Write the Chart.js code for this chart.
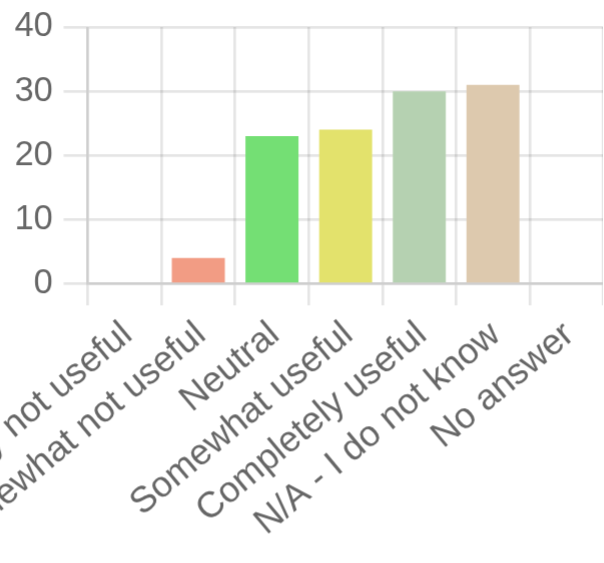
<!DOCTYPE html>
<html>
<head>
<meta charset="utf-8">
<script src="https://cdn.jsdelivr.net/npm/chart.js@4/dist/chart.umd.min.js"></script>
<style>
  html, body { margin: 0; padding: 0; background: #fff; overflow: hidden; width: 604px; height: 563px; }
  #wrap { position: absolute; left: 0; top: 0; transform-origin: 0 0; }
</style>
</head>
<body>
<div id="wrap"></div>
<script>
// ---- data ----
const categories = [
  "Completely not useful",
  "Somewhat not useful",
  "Neutral",
  "Somewhat useful",
  "Completely useful",
  "N/A - I do not know",
  "No answer"
];
const counts = [0, 4, 23, 24, 30, 31, 0];
const barColors = ["#e8e8e8", "#f29c84", "#74df74", "#e3e26c", "#b5d1b1", "#ddc9ae", "#d8d8d8"];
const yTicks = [0, 10, 20, 30, 40];

// ---- view (the reference is a zoomed crop of a small chart) ----
const SCALE = 2.7;
const TARGET = { left: 88, right: 603, zeroY: 283, topY: 27 };

Chart.defaults.font.family = "'Liberation Sans', Arial, Helvetica, sans-serif";
Chart.defaults.font.size = 12;
Chart.defaults.color = "#666";

function build(W, H) {
  const wrap = document.getElementById('wrap');
  wrap.innerHTML = '';
  const canvas = document.createElement('canvas');
  canvas.width = W; canvas.height = H;
  canvas.style.width = W + 'px'; canvas.style.height = H + 'px';
  wrap.appendChild(canvas);
  return new Chart(canvas, {
    type: 'bar',
    data: {
      labels: categories,
      datasets: [{
        data: counts,
        backgroundColor: barColors,
        borderWidth: 0
      }]
    },
    options: {
      responsive: false,
      maintainAspectRatio: false,
      animation: false,
      devicePixelRatio: SCALE,
      plugins: { legend: { display: false }, tooltip: { enabled: false } },
      layout: { padding: { top: 20, right: 0, left: 0, bottom: 0 } },
      scales: {
        x: {
          afterFit: (axis) => { axis.height = 130; },
          grid: { color: 'rgba(0,0,0,0.1)', tickLength: 8 },
          ticks: { minRotation: 40, maxRotation: 40, padding: 3, autoSkip: false,
                   labelOffset: 1, font: { size: 13.4 } }
        },
        y: {
          min: yTicks[0],
          max: yTicks[yTicks.length - 1],
          grid: { color: 'rgba(0,0,0,0.1)', tickLength: 9 },
          afterBuildTicks: (axis) => { axis.ticks = yTicks.map(v => ({ value: v })); },
          ticks: { padding: 4, font: { size: 12.7 } }
        }
      }
    }
  });
}

const wantW = (TARGET.right - TARGET.left) / SCALE;
const wantH = (TARGET.zeroY - TARGET.topY) / SCALE;
let W = 320, H = 250;
let chart = build(W, H);
for (let i = 0; i < 5; i++) {
  const area = chart.chartArea;
  const ys = chart.scales.y;
  const gotW = area.right - area.left;
  const gotH = ys.getPixelForValue(yTicks[0]) - ys.getPixelForValue(yTicks[yTicks.length - 1]);
  if (Math.abs(gotW - wantW) < 0.6 && Math.abs(gotH - wantH) < 0.6) break;
  W = Math.round(W + wantW - gotW);
  H = Math.round(H + wantH - gotH);
  chart.destroy();
  chart = build(W, H);
}
const ca = chart.chartArea;
const y0 = chart.scales.y.getPixelForValue(yTicks[0]);
const wrap = document.getElementById('wrap');
wrap.style.transform = 'scale(' + SCALE + ')';
wrap.style.left = (TARGET.left - ca.left * SCALE) + 'px';
wrap.style.top = (TARGET.zeroY - y0 * SCALE) + 'px';
</script>
</body>
</html>
